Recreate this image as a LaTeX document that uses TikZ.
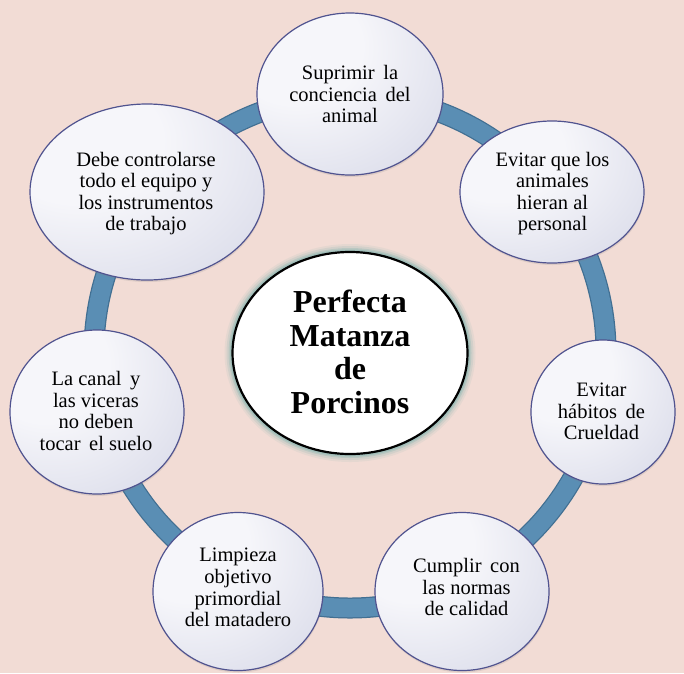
\documentclass[tikz,border=0pt]{standalone}
\usepackage{fontspec}
\setmainfont{Liberation Serif}
\usetikzlibrary{shapes.geometric,shadows}
\definecolor{bg}{HTML}{F2DCD5}
\definecolor{ringblue}{HTML}{5A8EB4}
\definecolor{ringedge}{HTML}{416F92}
\definecolor{elledge}{HTML}{50538F}
\definecolor{ellhi}{HTML}{F6F6FA}
\definecolor{elllo}{HTML}{C3C6DC}
\definecolor{glow}{HTML}{8DB8B3}
\pgfdeclareradialshading{ballshade}{\pgfpoint{-18bp}{18bp}}{color(0bp)=(ellhi); color(18bp)=(ellhi); color(68bp)=(elllo); color(100bp)=(elllo)}
\newcommand\wsp{\hspace{0.42em}}
\begin{document}
\begin{tikzpicture}[x=1pt,y=-1pt,
  sat/.style={ellipse, draw=elledge, line width=1.2pt, shading=ballshade, inner sep=0pt,
    drop shadow={opacity=0.18, shadow xshift=0.5pt, shadow yshift=-2pt}},
  sattext/.style={font=\fontsize{20.5}{21.6}\selectfont, align=center, inner sep=0pt, text=black},
  centertext/.style={font=\bfseries\fontsize{32}{33.5}\selectfont, align=center, inner sep=0pt, text=black}]
\useasboundingbox (0,0) rectangle (684,673);
\fill[bg] (0,0) rectangle (684,673);
% ring
\coordinate (o) at (350,352);
\draw[ringedge, line width=21pt] (o) circle[radius=256];
\draw[ringblue, line width=18.5pt] (o) circle[radius=256];
% satellites
\node[sat, minimum width=186pt, minimum height=162pt] (e1) at (350,94) {};
\node[sat, minimum width=184pt, minimum height=142pt] (e2) at (552,192) {};
\node[sat, minimum width=144pt, minimum height=144pt] (e3) at (603,412) {};
\node[sat, minimum width=174pt, minimum height=158pt] (e4) at (462,591.5) {};
\node[sat, minimum width=170pt, minimum height=158pt] (e5) at (238,591.5) {};
\node[sat, minimum width=174pt, minimum height=164pt] (e6) at (97,412) {};
\node[sat, minimum width=234pt, minimum height=176pt] (e7) at (147,192) {};
\node[sattext] (t1) at (350,94) {Suprimir\wsp la\\conciencia\wsp del\\animal};
\node[sattext] (t2) at (552.5,193.6) {Evitar que los\\animales\\hieran al\\personal};
\node[sattext] (t3) at (601.5,411.4) {Evitar\\hábitos\wsp de\\Crueldad};
\node[sattext] (t4) at (466.5,587.2) {Cumplir\wsp con\\las normas\\de calidad};
\node[sattext] (t5) at (238,587.5) {Limpieza\\objetivo\\primordial\\del matadero};
\node[sattext] (t6) at (96,410.9) {La canal\wsp y\\las viceras\\no deben\\tocar\wsp el suelo};
\node[sattext] (t7) at (146,193.6) {Debe controlarse\\todo el equipo y\\los instrumentos\\de trabajo};
% centre glow
\foreach \w/\op in {16/0.12, 12/0.2, 8/0.35, 5/0.55}
  \draw[glow, line width=\w pt, opacity=\op] (350,353) ellipse[x radius=117.5, y radius=101];
\node[ellipse, draw=black, line width=2.2pt, fill=white, minimum width=235pt, minimum height=202pt, inner sep=0pt] (c) at (350,353) {};
\node[centertext] (ct) at (350,352) {Perfecta\\Matanza\\de\\Porcinos};
\end{tikzpicture}
\end{document}
